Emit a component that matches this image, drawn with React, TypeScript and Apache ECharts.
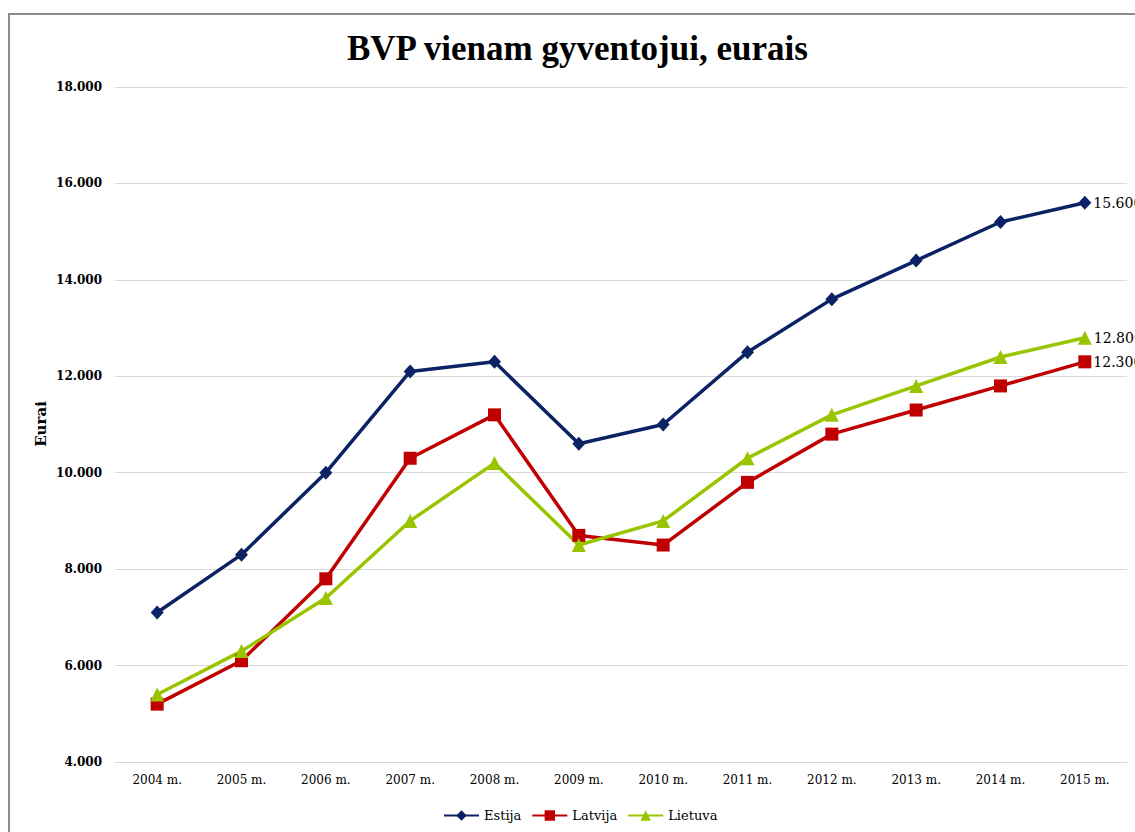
import React, { useEffect, useRef } from "react";
import * as echarts from "echarts";

const categories = ["2004 m.", "2005 m.", "2006 m.", "2007 m.", "2008 m.", "2009 m.", "2010 m.", "2011 m.", "2012 m.", "2013 m.", "2014 m.", "2015 m."];
const estija = [7100, 8300, 10000, 12100, 12300, 10600, 11000, 12500, 13600, 14400, 15200, 15600];
const latvija = [5200, 6100, 7800, 10300, 11200, 8700, 8500, 9800, 10800, 11300, 11800, 12300];
const lietuva = [5400, 6300, 7400, 9000, 10200, 8500, 9000, 10300, 11200, 11800, 12400, 12800];

const fmt = (v: number) => String(v).replace(/\B(?=(\d{3})+(?!\d))/g, ".");
const SERIF = "DejaVu Serif";

function mkSeries(name: string, data: number[], color: string, symbol: string, size: number | number[]) {
  return {
    name,
    type: "line",
    data: data.map((v, i) =>
      i === data.length - 1
        ? {
            value: v,
            label: {
              show: true,
              position: "right",
              distance: 2,
              formatter: (p: any) => fmt(p.value),
              color: "#000",
              fontFamily: SERIF,
              fontSize: 14,
            },
          }
        : v
    ),
    symbol,
    symbolSize: size,
    lineStyle: { color, width: 3.5 },
    itemStyle: { color },
    label: { show: false },
  };
}

export default function App() {
  const ref = useRef<HTMLDivElement>(null);
  useEffect(() => {
    if (!ref.current) return;
    const chart = echarts.init(ref.current, null, { renderer: "svg" });
    chart.setOption({
      animation: false,
      backgroundColor: "#fff",
      title: {
        text: "BVP vienam gyventojui, eurais",
        left: 342,
        top: 26,
        textStyle: { fontFamily: "Liberation Serif", fontWeight: "bold", fontSize: 35, color: "#000" },
      },
      graphic: [
        {
          type: "rect",
          shape: { x: 9, y: 14, width: 1300, height: 1000 },
          style: { fill: "none", stroke: "#8c8c8c", lineWidth: 2 },
          silent: true,
        },
        {
          type: "text",
          x: 41,
          y: 424,
          rotation: Math.PI / 2,
          style: {
            text: "Eurai",
            align: "center",
            verticalAlign: "middle",
            font: `bold 15px "${SERIF}"`,
            fill: "#000",
          },
        },
      ],
      legend: {
        top: 804,
        left: 438,
        itemWidth: 35,
        itemHeight: 13,
        itemGap: 10,
        textStyle: { fontFamily: SERIF, fontSize: 13, color: "#000" },
        data: ["Estija", "Latvija", "Lietuva"],
      },
      grid: { left: 115, right: 8, top: 87, bottom: 70, containLabel: false },
      xAxis: {
        type: "category",
        data: categories,
        boundaryGap: true,
        axisLine: { show: true, lineStyle: { color: "#d9d9d9" } },
        axisTick: { show: false },
        axisLabel: { fontFamily: SERIF, fontSize: 12, color: "#000", margin: 12 },
      },
      yAxis: {
        type: "value",
        min: 4000,
        max: 18000,
        interval: 2000,
        axisLine: { show: false },
        axisTick: { show: false },
        splitLine: { lineStyle: { color: "#d9d9d9", width: 1 } },
        axisLabel: {
          fontFamily: SERIF,
          fontSize: 12,
          fontWeight: "bold",
          color: "#000",
          margin: 13,
          formatter: (v: number) => fmt(v),
        },
      },
      series: [
        mkSeries("Estija", estija, "#0b2265", "diamond", [13, 14]),
        mkSeries("Latvija", latvija, "#c00000", "rect", 13),
        mkSeries("Lietuva", lietuva, "#99c400", "triangle", 14),
      ],
    });
    return () => chart.dispose();
  }, []);
  return <div ref={ref} style={{ position: "fixed", left: 0, top: 0, width: 1135, height: 832 }} />;
}
